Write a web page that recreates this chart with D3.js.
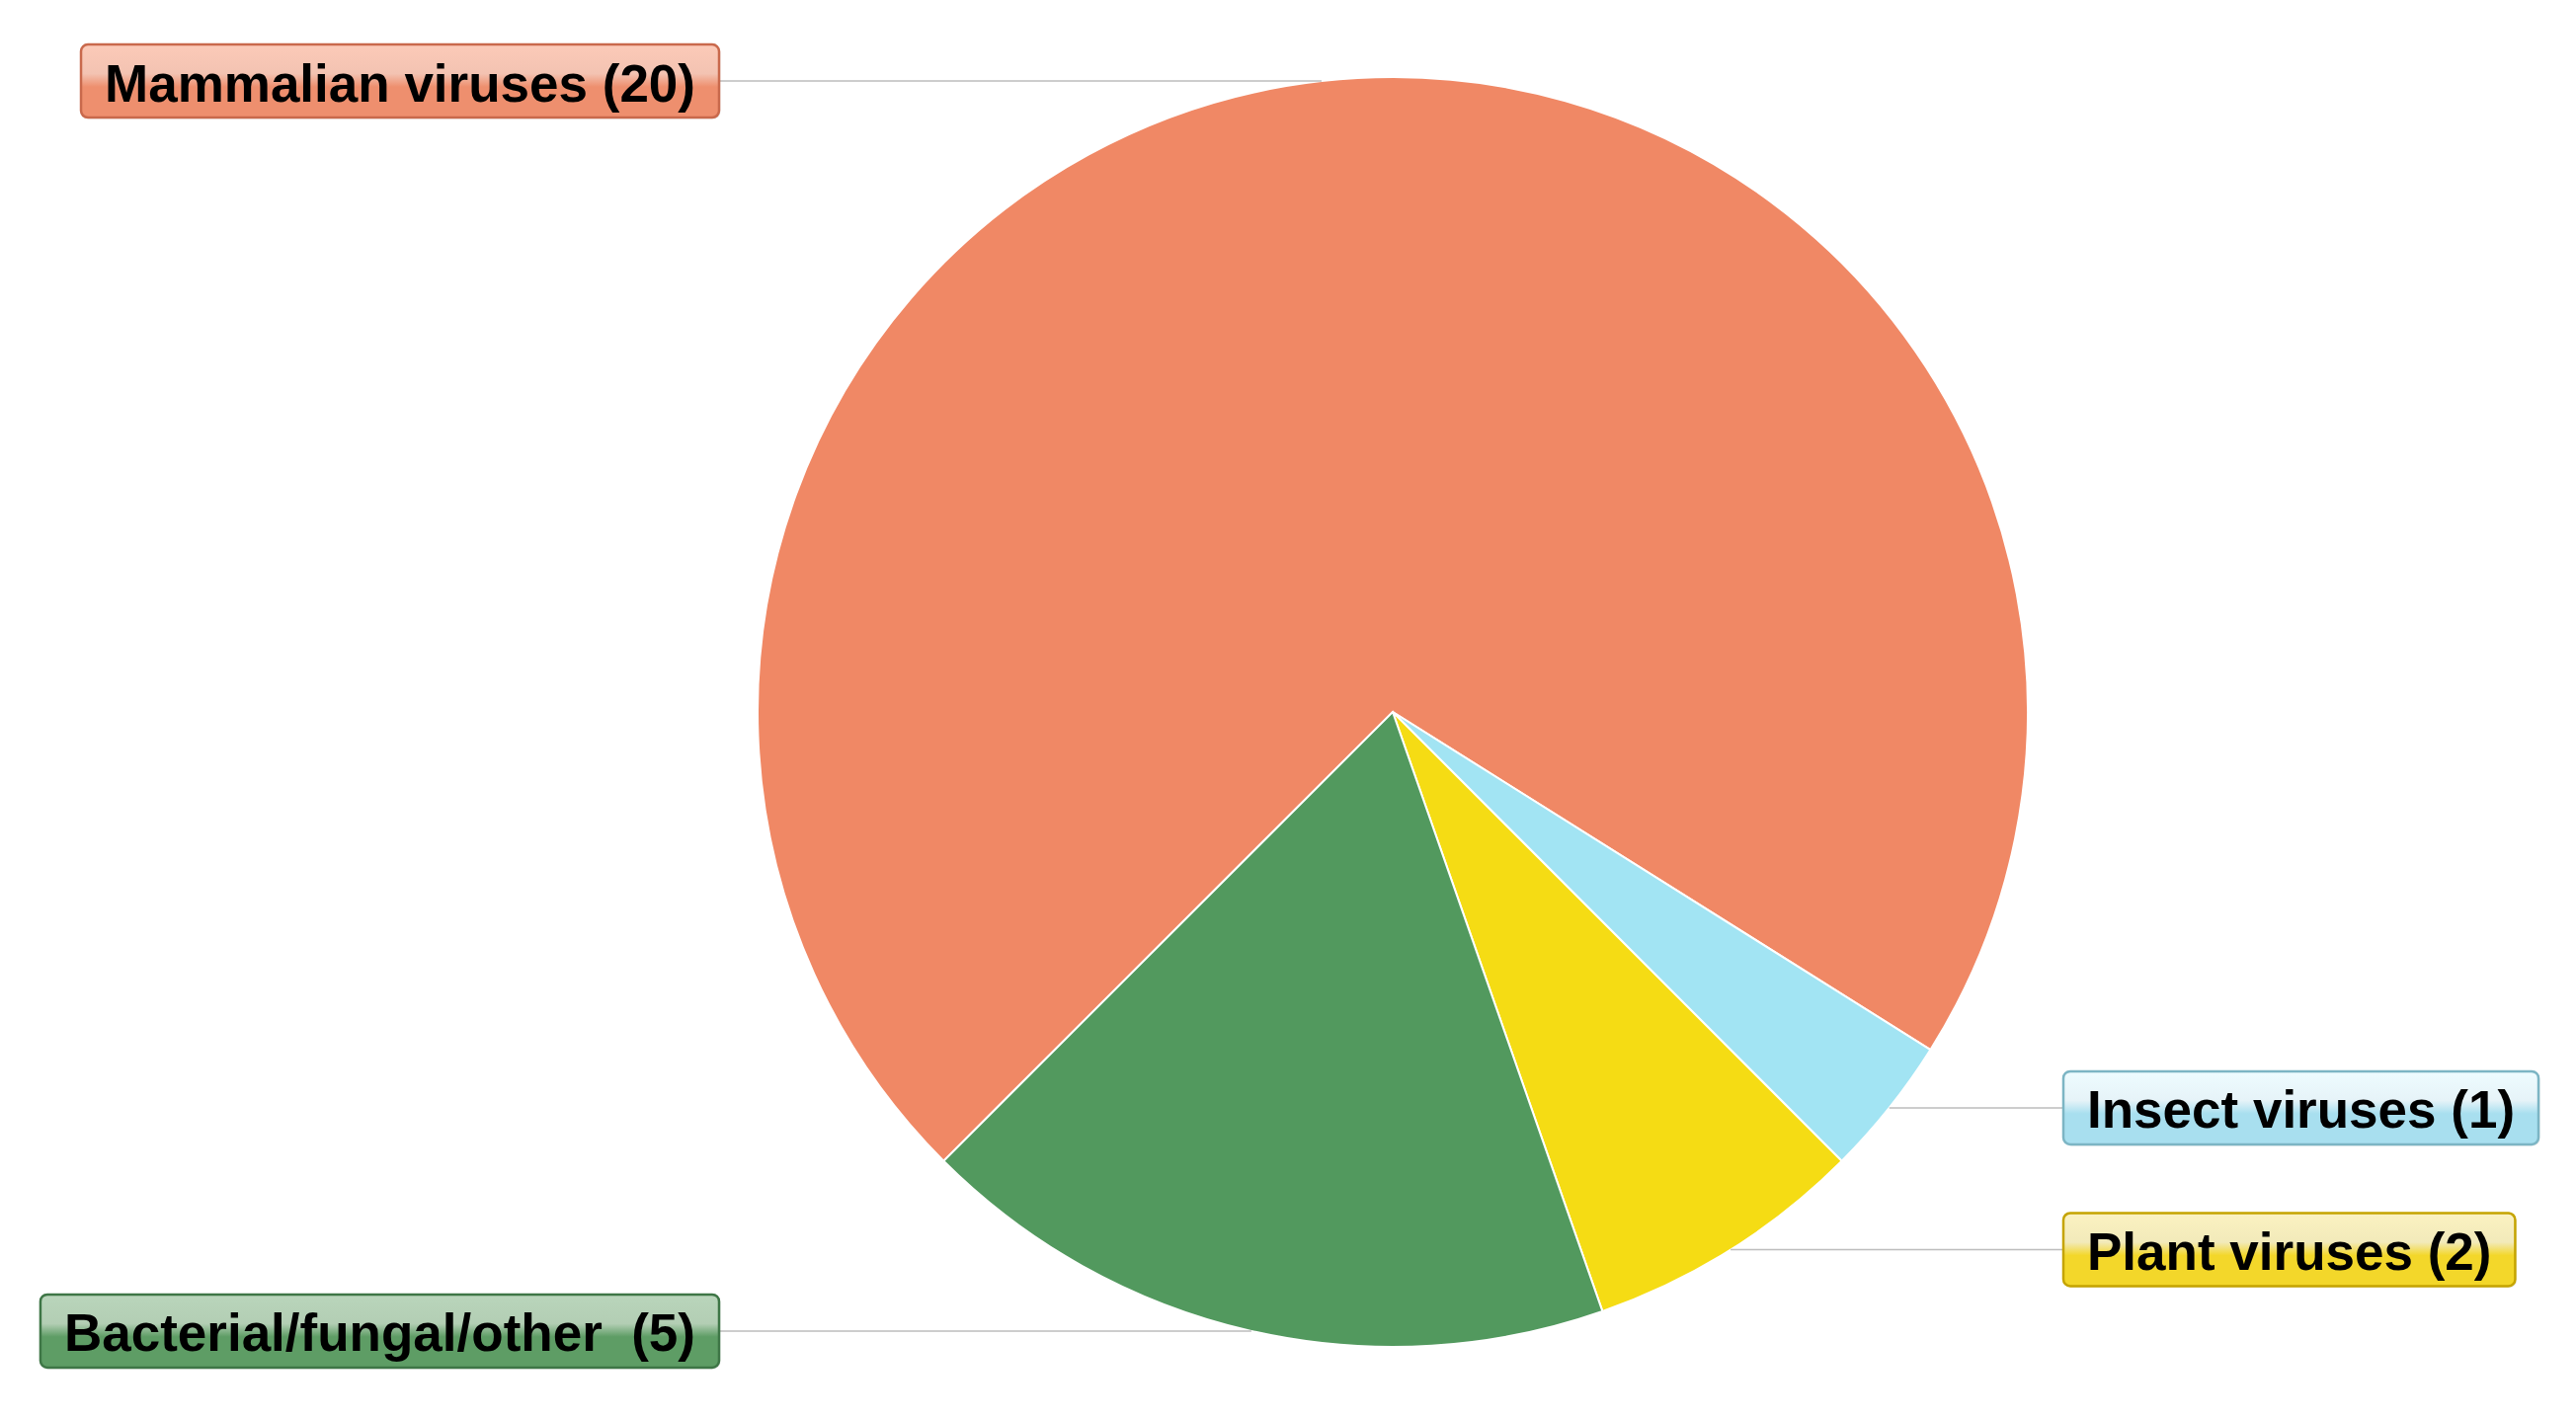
<!DOCTYPE html>
<html>
<head>
<meta charset="utf-8">
<script src="https://cdn.jsdelivr.net/npm/d3@7"></script>
<style>
  body { margin: 0; background: #fff; }
  text { white-space: pre; }
</style>
</head>
<body>
<svg id="chart"></svg>
<script>
// data
const categories = ["Mammalian viruses", "Insect viruses", "Plant viruses", "Bacterial/fungal/other "];
const counts = [20, 1, 2, 5];
const sliceColors = ["#F08865", "#A2E4F3", "#F5DC14", "#52995E"];
const boxTop = ["#F3C3B2", "#E6F3F8", "#F2EABA", "#B3CEB4"];
const boxBottom = ["#EE8F6E", "#A8DFEF", "#F3D72A", "#5E9D65"];
const boxBorder = ["#C9694C", "#7CB5C4", "#C5A400", "#3E7646"];
const labelSide = ["left", "right", "right", "left"];

const width = 2608, height = 1436;
const cx = 1410, cy = 721, radius = 643;

const svg = d3.select("#chart")
  .attr("width", width)
  .attr("height", height)
  .attr("viewBox", `0 0 ${width} ${height}`);

const data = categories.map((c, i) => ({ name: c, value: counts[i], i: i }));

const pie = d3.pie()
  .sort(null)
  .value(d => d.value)
  .startAngle(-Math.PI * 3 / 4)
  .endAngle(Math.PI * 5 / 4);

const arc = d3.arc().innerRadius(0).outerRadius(radius);

const arcs = pie(data);

const g = svg.append("g").attr("transform", `translate(${cx},${cy})`);

g.selectAll("path")
  .data(arcs)
  .join("path")
  .attr("d", arc)
  .attr("fill", d => sliceColors[d.data.i])
  .attr("stroke", "#fff")
  .attr("stroke-width", 2);

// gradients for the glossy label boxes
const defs = svg.append("defs");
data.forEach(d => {
  const grad = defs.append("linearGradient")
    .attr("id", "grad" + d.i)
    .attr("x1", 0).attr("y1", 0).attr("x2", 0).attr("y2", 1);
  grad.append("stop").attr("offset", "0%").attr("stop-color", d3.color(boxTop[d.i]).brighter(0.1));
  grad.append("stop").attr("offset", "40%").attr("stop-color", boxTop[d.i]);
  grad.append("stop").attr("offset", "58%").attr("stop-color", boxBottom[d.i]);
  grad.append("stop").attr("offset", "100%").attr("stop-color", boxBottom[d.i]);
});

const leftEdge = 728, rightEdge = 2089;
const boxH = 74, padX = 24, fontSize = 53;

const labels = svg.append("g");

arcs.forEach(a => {
  const mid = (a.startAngle + a.endAngle) / 2;
  const px = cx + radius * Math.sin(mid);
  const py = cy - radius * Math.cos(mid);
  const side = labelSide[a.data.i];
  const label = `${a.data.name} (${a.data.value})`;

  const lg = labels.append("g");

  const txt = lg.append("text")
    .attr("font-family", "'Liberation Sans', Arial, sans-serif")
    .attr("font-weight", "bold")
    .attr("font-size", fontSize)
    .attr("fill", "#000")
    .attr("dominant-baseline", "central")
    .text(label);

  const tw = txt.node().getComputedTextLength();
  const bw = tw + padX * 2;
  const bx = side === "left" ? leftEdge - bw : rightEdge;

  // leader line
  lg.insert("line", "text")
    .attr("x1", px).attr("y1", py)
    .attr("x2", side === "left" ? leftEdge : rightEdge).attr("y2", py)
    .attr("stroke", "#BDBDBD")
    .attr("stroke-width", 1.5);

  lg.insert("rect", "text")
    .attr("x", bx + 1.5)
    .attr("y", py - boxH / 2 + 1.5)
    .attr("width", bw)
    .attr("height", boxH)
    .attr("rx", 7)
    .attr("fill", "#000")
    .attr("opacity", 0.08);

  lg.insert("rect", "text")
    .attr("x", bx)
    .attr("y", py - boxH / 2)
    .attr("width", bw)
    .attr("height", boxH)
    .attr("rx", 7)
    .attr("fill", `url(#grad${a.data.i})`)
    .attr("stroke", boxBorder[a.data.i])
    .attr("stroke-width", 2.5);

  txt.attr("x", bx + padX).attr("y", py + 2);
});
</script>
</body>
</html>
